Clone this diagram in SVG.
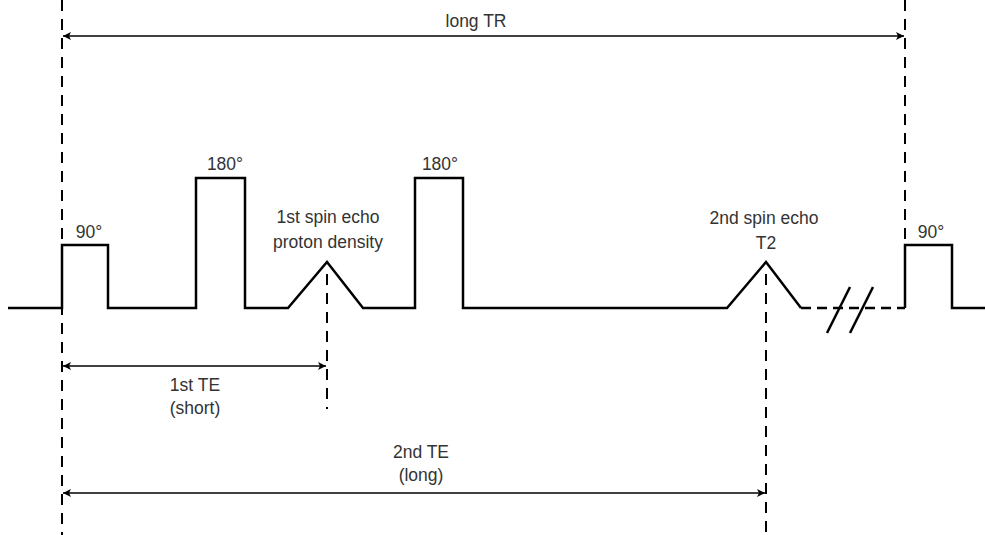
<svg xmlns="http://www.w3.org/2000/svg" width="985" height="535" viewBox="0 0 985 535">
<style>
.sig{fill:none;stroke:#000;stroke-width:2.5;stroke-linejoin:miter}
.guide{fill:none;stroke:#000;stroke-width:2;stroke-dasharray:11 8}
.brk{fill:none;stroke:#000;stroke-width:2.5;stroke-dasharray:10 6}
.dim{fill:none;stroke:#000;stroke-width:1.6;marker-start:url(#ah);marker-end:url(#ah)}
.lbl{font-family:"Liberation Sans","DejaVu Sans",sans-serif;font-size:17.5px;fill:#333;text-anchor:middle}
</style>
<defs>
<marker id="ah" viewBox="0 0 10 10" refX="10" refY="5" markerWidth="9" markerHeight="8" markerUnits="userSpaceOnUse" orient="auto-start-reverse">
<path d="M0,0 L10,5 L0,10 L2.5,5 Z" fill="#000"/>
</marker>
</defs>
<rect width="985" height="535" fill="#fff"/>
<g id="guides">
<line class="guide" x1="62" y1="0" x2="62" y2="535"/>
<line class="guide" x1="905" y1="0" x2="905" y2="244"/>
<line class="guide" x1="327" y1="274" x2="327" y2="409"/>
<line class="guide" x1="766" y1="274" x2="766" y2="535"/>
</g>
<g id="signal">
<polyline class="sig" points="8,308 62,308 62,245 108,245 108,308 196,308 196,178 245,178 245,308 288,308 327,262 363,308 415,308 415,178 463,178 463,308 727,308 766,262 801,308"/>
<line class="brk" x1="801" y1="308" x2="905" y2="308"/>
<polyline class="sig" points="905,308 905,245 952,245 952,308 985,308"/>
<line class="sig" x1="827" y1="333" x2="850" y2="287"/>
<line class="sig" x1="850" y1="333" x2="873" y2="287"/>
</g>
<g id="connectors">
<line class="dim" x1="63" y1="36" x2="904" y2="36"/>
<line class="dim" x1="63" y1="366" x2="326" y2="366"/>
<line class="dim" x1="63" y1="493" x2="765" y2="493"/>
</g>
<g id="labels">
<text class="lbl" x="476" y="27">long TR</text>
<text class="lbl" x="89" y="238">90°</text>
<text class="lbl" x="225" y="170">180°</text>
<text class="lbl" x="440" y="170">180°</text>
<text class="lbl" x="931" y="238">90°</text>
<text class="lbl" x="328" y="223">1st spin echo</text>
<text class="lbl" x="328" y="248">proton density</text>
<text class="lbl" x="764" y="224">2nd spin echo</text>
<text class="lbl" x="766" y="249">T2</text>
<text class="lbl" x="195" y="391">1st TE</text>
<text class="lbl" x="195" y="414">(short)</text>
<text class="lbl" x="421" y="458">2nd TE</text>
<text class="lbl" x="421" y="481">(long)</text>
</g>
</svg>
